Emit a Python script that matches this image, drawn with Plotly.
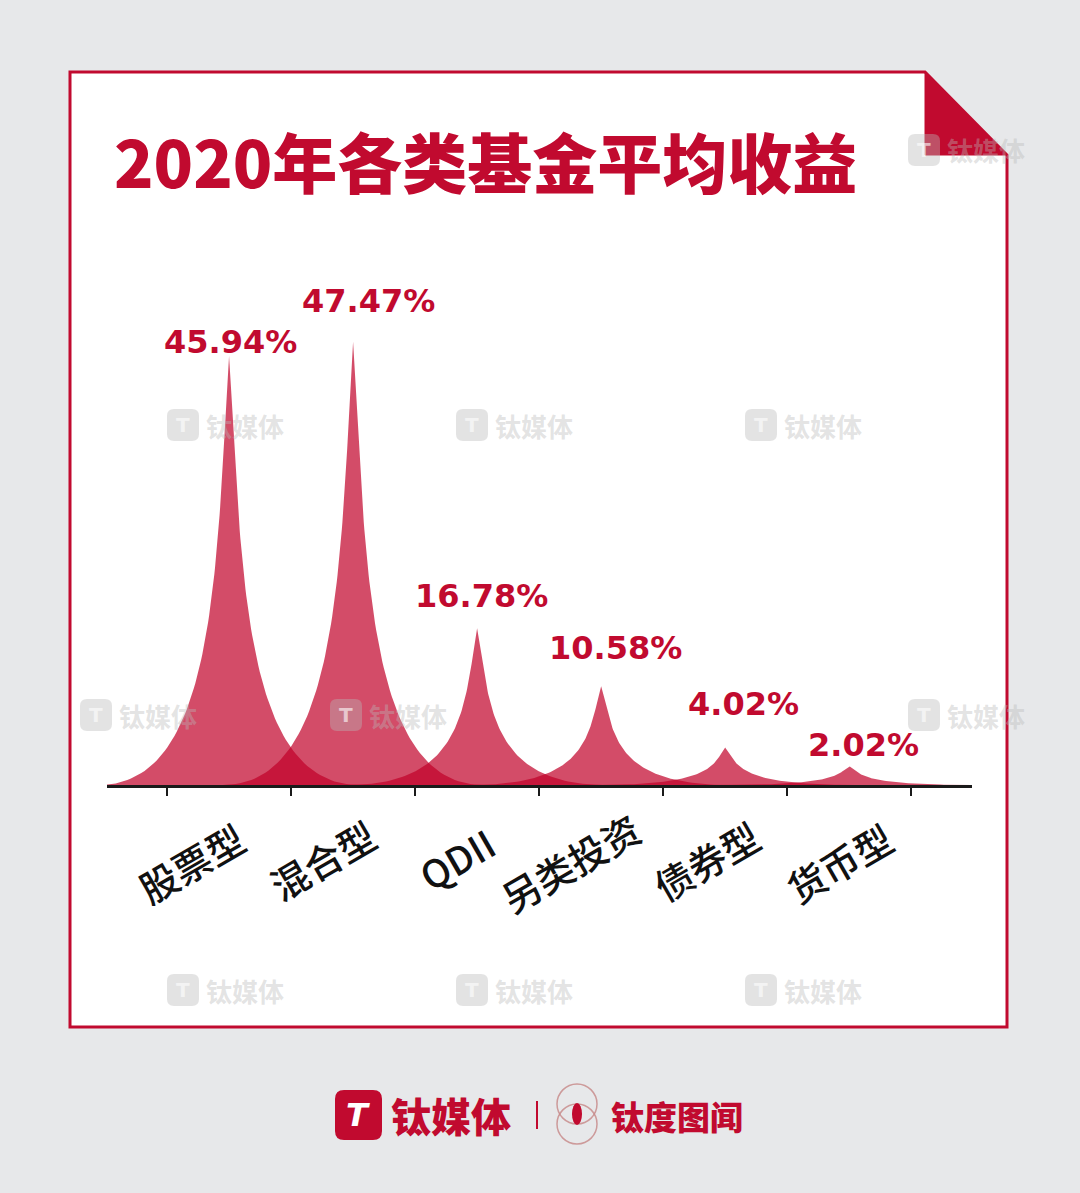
import numpy as np
import plotly.graph_objects as go

# ---------------- data ----------------
categories = ["股票型", "混合型", "QDII", "另类投资", "债券型", "货币型"]
returns_pct = [45.94, 47.47, 16.78, 10.58, 4.02, 2.02]
value_text = ["45.94%", "47.47%", "16.78%", "10.58%", "4.02%", "2.02%"]
title_text = "2020年各类基金平均收益"

# ---------------- layout constants (pixels) ----------------
W, H = 1080, 1193
PX_L, PX_R = 107, 972          # plot area horizontal extent
PY_T, PY_B = 318, 785          # plot area vertical extent
X_RANGE = [-0.984, 5.99]
Y_RANGE = [0, 50]

RED = "#c10a2f"
SPIKE = "rgba(192,0,40,0.70)"

# label offsets in pixels (value labels, category labels)
val_dx = [1, 15, 4, 14, 18, 14]
val_dy = [14, 41, 32, 38, 43, 21]
cat_dx = [-38, -31, -21, -31, -19, -10]
cat_dy = [-77, -74, -73, -77, -75, -77]


def px(x):
    return (x - PX_L) / (PX_R - PX_L)


def py(y):
    return (PY_B - y) / (PY_B - PY_T)


def rrect(x0, y0, x1, y1, r):
    """rounded rectangle path in paper coords from pixel coords"""
    pts = [
        f"M{px(x0 + r)},{py(y0)}",
        f"L{px(x1 - r)},{py(y0)}",
        f"Q{px(x1)},{py(y0)} {px(x1)},{py(y0 + r)}",
        f"L{px(x1)},{py(y1 - r)}",
        f"Q{px(x1)},{py(y1)} {px(x1 - r)},{py(y1)}",
        f"L{px(x0 + r)},{py(y1)}",
        f"Q{px(x0)},{py(y1)} {px(x0)},{py(y1 - r)}",
        f"L{px(x0)},{py(y0 + r)}",
        f"Q{px(x0)},{py(y0)} {px(x0 + r)},{py(y0)}",
        "Z",
    ]
    return " ".join(pts)


def poly(points):
    s = "M" + " L".join(f"{px(a)},{py(b)}" for a, b in points)
    return s + " Z"


fig = go.Figure()

# ---------------- spike ("peak") shapes ----------------
half_w = 1.05  # half width of a spike in category units
t = np.linspace(0, 1, 80)
b0, b1, b2, b3 = (1 - t) ** 3, 3 * t * (1 - t) ** 2, 3 * t ** 2 * (1 - t), t ** 3
# cubic bezier of the cusp: P0=(0,1) P1=(0.1,0.5) P2=(0.1,0) P3=(1,0)
d = b1 * 0.1 + b2 * 0.1 + b3 * 1.0
h = b0 * 1.0 + b1 * 0.5

for i, (cat, v) in enumerate(zip(categories, returns_pct)):
    xs = np.concatenate([i - d[::-1] * half_w, i + d * half_w])
    ys = np.concatenate([h[::-1] * v, h * v])
    fig.add_trace(go.Scatter(
        x=xs, y=ys, mode="lines", fill="toself", fillcolor=SPIKE,
        line=dict(width=0, color=SPIKE), hoverinfo="skip", showlegend=False,
        name=cat,
    ))

annotations = []
shapes = []

# ---------------- card with folded corner ----------------
shapes.append(dict(type="path", xref="paper", yref="paper", layer="below",
                   path=poly([(70, 72), (925, 72), (1007, 155), (1007, 1027), (70, 1027)]),
                   fillcolor="white", line=dict(color=RED, width=3)))
shapes.append(dict(type="path", xref="paper", yref="paper", layer="below",
                   path=poly([(925, 72), (925, 155), (1007, 155)]),
                   fillcolor=RED, line=dict(color=RED, width=1)))

# ---------------- watermarks ----------------
wm_pos = [(908, 150),
          (167, 425), (456, 425), (745, 425),
          (80, 715), (330, 715), (908, 715),
          (167, 990), (456, 990), (745, 990)]
WM = "rgba(185,185,185,0.40)"
for (wx, wy) in wm_pos:
    shapes.append(dict(type="path", xref="paper", yref="paper", layer="above",
                       path=rrect(wx, wy - 16, wx + 32, wy + 16, 7),
                       fillcolor=WM, line=dict(width=0)))
    annotations.append(dict(x=px(wx + 16), y=py(wy), xref="paper", yref="paper",
                            text="<b>T</b>", showarrow=False, xanchor="center",
                            yanchor="middle",
                            font=dict(family="DejaVu Sans", size=20,
                                      color="rgba(255,255,255,0.6)")))
    annotations.append(dict(x=px(wx + 37), y=py(wy), xref="paper", yref="paper",
                            text="钛媒体", showarrow=False, xanchor="left",
                            yanchor="middle",
                            font=dict(family="Noto Sans CJK SC", size=26,
                                      color=WM, weight=700)))

# ---------------- title ----------------
annotations.append(dict(x=px(112), y=py(160), xref="paper", yref="paper",
                        text=title_text, showarrow=False, xanchor="left",
                        yanchor="middle",
                        font=dict(family="Noto Sans CJK SC", size=65,
                                  color=RED, weight=900)))

# ---------------- value labels ----------------
for i, v in enumerate(returns_pct):
    annotations.append(dict(x=i, y=v, xref="x", yref="y", text=value_text[i],
                            showarrow=False, xanchor="center", yanchor="middle",
                            xshift=val_dx[i], yshift=val_dy[i],
                            font=dict(family="DejaVu Sans", size=32, color=RED,
                                      weight=700)))

# ---------------- category labels (rotated) ----------------
for i, cat in enumerate(categories):
    annotations.append(dict(x=i, y=0, xref="x", yref="y", text=cat,
                            showarrow=False, xanchor="center", yanchor="middle",
                            xshift=cat_dx[i], yshift=cat_dy[i], textangle=-30,
                            font=dict(family="Noto Sans CJK SC", size=38,
                                      color="#111111", weight=500)))

# ---------------- footer ----------------
shapes.append(dict(type="path", xref="paper", yref="paper", layer="above",
                   path=rrect(335, 1090, 382, 1140, 9), fillcolor=RED,
                   line=dict(width=0)))
annotations.append(dict(x=px(358), y=py(1115), xref="paper", yref="paper",
                        text="<b><i>T</i></b>", showarrow=False, xanchor="center",
                        yanchor="middle",
                        font=dict(family="DejaVu Sans", size=32, color="white")))
annotations.append(dict(x=px(389), y=py(1115), xref="paper", yref="paper",
                        text="钛媒体", showarrow=False, xanchor="left",
                        yanchor="middle",
                        font=dict(family="Noto Sans CJK SC", size=40, color=RED,
                                  weight=900)))
shapes.append(dict(type="line", xref="paper", yref="paper", layer="above",
                   x0=px(537), x1=px(537), y0=py(1101), y1=py(1129),
                   line=dict(color=RED, width=2)))
for cy in (1104, 1124):
    shapes.append(dict(type="circle", xref="paper", yref="paper", layer="above",
                       x0=px(557), x1=px(597), y0=py(cy - 20), y1=py(cy + 20),
                       line=dict(color="rgba(200,140,140,0.85)", width=1.5)))
shapes.append(dict(type="circle", xref="paper", yref="paper", layer="above",
                   x0=px(572), x1=px(582), y0=py(1103), y1=py(1125),
                   fillcolor=RED, line=dict(width=0)))
annotations.append(dict(x=px(609), y=py(1116), xref="paper", yref="paper",
                        text="钛度图闻", showarrow=False, xanchor="left",
                        yanchor="middle",
                        font=dict(family="Noto Sans CJK SC", size=33, color=RED,
                                  weight=900)))

fig.update_layout(
    width=W, height=H,
    margin=dict(l=PX_L, r=W - PX_R, t=PY_T, b=H - PY_B, pad=0),
    paper_bgcolor="#e7e8ea",
    plot_bgcolor="rgba(0,0,0,0)",
    showlegend=False,
    annotations=annotations,
    shapes=shapes,
    xaxis=dict(range=X_RANGE, showgrid=False, zeroline=False,
               showline=True, linecolor="#1a1a1a", linewidth=3,
               ticks="outside", ticklen=8, tickwidth=2, tickcolor="#1a1a1a",
               tickvals=[k - 0.5 for k in range(len(categories) + 1)],
               showticklabels=False, layer="above traces", fixedrange=True),
    yaxis=dict(range=Y_RANGE, visible=False, fixedrange=True),
)

fig.write_html(
    "out.html",
    config={"displayModeBar": False},
    post_script="document.body.style.margin='0';document.body.style.overflow='hidden';",
)
